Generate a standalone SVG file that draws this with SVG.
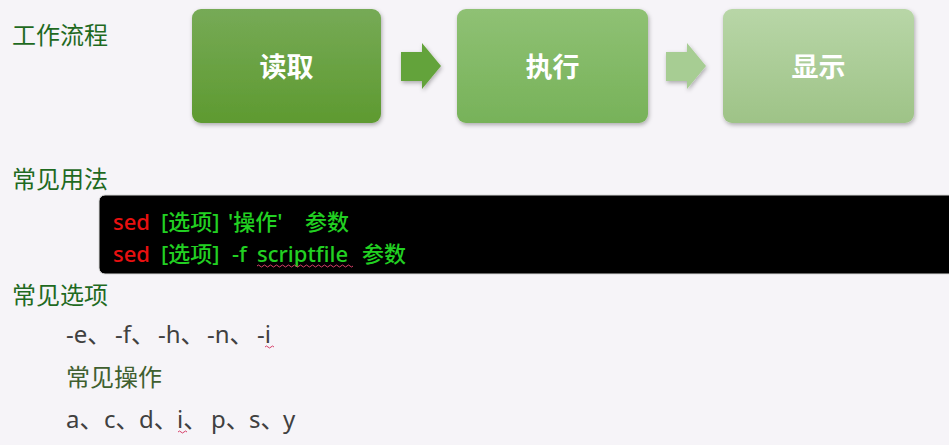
<svg xmlns="http://www.w3.org/2000/svg" width="949" height="445" viewBox="0 0 949 445">
<defs>
<linearGradient id="g1" x1="0" y1="0" x2="0" y2="1"><stop offset="0" stop-color="#76aa56"/><stop offset="1" stop-color="#5e9a30"/></linearGradient>
<linearGradient id="g2" x1="0" y1="0" x2="0" y2="1"><stop offset="0" stop-color="#8fc174"/><stop offset="1" stop-color="#77b259"/></linearGradient>
<linearGradient id="g3" x1="0" y1="0" x2="0" y2="1"><stop offset="0" stop-color="#b8d6a7"/><stop offset="1" stop-color="#9ec387"/></linearGradient>
<filter id="sh" x="-10%" y="-10%" width="125%" height="130%"><feDropShadow dx="1" dy="2" stdDeviation="2" flood-color="#000" flood-opacity="0.3"/></filter>
</defs>
<style>
text{font-family:"Noto Sans","Noto Sans CJK SC",sans-serif}
.h{font-size:24px;fill:#1f6a1f}
.box{font-size:27px;font-weight:bold;fill:#fff;text-anchor:middle}
.code{font-size:22px;fill:#22d022;font-weight:500}
.red{fill:#e81010}
.opt{font-size:24px;fill:#404040}
.h2{font-size:24px;fill:#3f5f2f}
.sq{fill:none;stroke:#d8406a;stroke-width:1}
</style>
<rect width="949" height="445" fill="#f6f4f8"/>

<text class="h" x="12" y="44">工作流程</text>

<g id="node-read">
<rect x="192" y="9" width="189" height="114" rx="9" fill="url(#g1)" filter="url(#sh)"/>
<text class="box" x="286.5" y="77">读取</text>
</g>
<g id="node-exec">
<rect x="457" y="9" width="191" height="114" rx="9" fill="url(#g2)" filter="url(#sh)"/>
<text class="box" x="552.5" y="77">执行</text>
</g>
<g id="node-show">
<rect x="723" y="9" width="191" height="114" rx="9" fill="url(#g3)" filter="url(#sh)"/>
<text class="box" x="818.5" y="77">显示</text>
</g>

<g id="connectors">
<path d="M401 52 H422 V43 L441 66 L422 89 V81 H401 Z" fill="#64a33a" filter="url(#sh)"/>
<path d="M666 52 H687 V43 L706 66 L687 89 V81 H666 Z" fill="#a7cd93" filter="url(#sh)"/>
</g>

<text class="h" x="12" y="188">常见用法</text>

<g id="code-box">
<rect x="99" y="195" width="860" height="79" rx="6" fill="#000" stroke="#d8d8d8" stroke-width="1"/>
<text class="code" y="230"><tspan class="red" x="113">sed</tspan><tspan x="161">[选项]</tspan><tspan x="228">'操作'</tspan><tspan x="305">参数</tspan></text>
<text class="code" y="262"><tspan class="red" x="113">sed</tspan><tspan x="161">[选项]</tspan><tspan x="232">-f</tspan><tspan x="257">scriptfile</tspan><tspan x="362">参数</tspan></text>
<path class="sq" d="M257 266 q1.5 -2 3 0 t3 0 t3 0 t3 0 t3 0 t3 0 t3 0 t3 0 t3 0 t3 0 t3 0 t3 0 t3 0 t3 0 t3 0 t3 0 t3 0 t3 0 t3 0 t3 0 t3 0 t3 0 t3 0 t3 0 t3 0 t3 0 t3 0 t3 0 t3 0 t3 0 t3 0 t3 0"/>
</g>

<text class="h" x="12" y="304">常见选项</text>

<text class="opt" y="343"><tspan x="66">-e、</tspan><tspan x="115">-f、</tspan><tspan x="158">-h、</tspan><tspan x="207">-n、</tspan><tspan x="257">-i</tspan></text>
<path class="sq" d="M265 347 q1.5 -2 3 0 t3 0 t3 0"/>

<text class="h2" x="66" y="386">常见操作</text>

<text class="opt" y="428"><tspan x="66">a、</tspan><tspan x="104">c、</tspan><tspan x="139">d、</tspan><tspan x="177">i、</tspan><tspan x="211">p、</tspan><tspan x="249">s、</tspan><tspan x="283">y</tspan></text>
<path class="sq" d="M178 432 q1.5 -2 3 0 t3 0 t3 0"/>
</svg>
